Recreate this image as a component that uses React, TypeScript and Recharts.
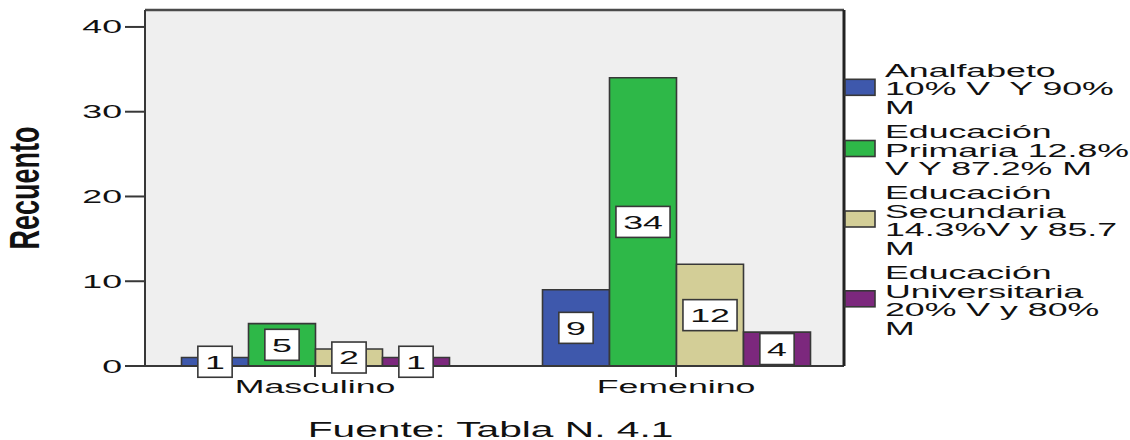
import React from "react";
import {
  BarChart,
  Bar,
  XAxis,
  YAxis,
  CartesianGrid,
  LabelList,
  Legend,
} from "recharts";

// ---- data ----
const categories = ["Masculino", "Femenino"];
const analfabeto = [1, 9];
const primaria = [5, 34];
const secundaria = [2, 12];
const universitaria = [1, 4];
const yTicks = [0, 10, 20, 30, 40];
const seriesKeys = ["analfabeto", "primaria", "secundaria", "universitaria"];
const seriesLabels = [
  ["Analfabeto", "10% V  Y 90%", "M"],
  ["Educación", "Primaria 12.8%", "V Y 87.2% M"],
  ["Educación", "Secundaria", "14.3%V y 85.7", "M"],
  ["Educación", "Universitaria", "20% V y 80%", "M"],
];
const seriesColors = ["#3E58AC", "#2EB848", "#D3CE97", "#7C287D"];
const yAxisTitle = "Recuento";
const sourceNote = "Fuente: Tabla N. 4.1";

const data = categories.map((c, i) => ({
  sex: c,
  analfabeto: analfabeto[i],
  primaria: primaria[i],
  secundaria: secundaria[i],
  universitaria: universitaria[i],
}));

// ---- styling ----
const FONT = "'Liberation Sans', Arial, sans-serif";
const SX = 1.93;
const FS = 18.5;
const INK = "#111";
const AXIS = "#383838";

const SText = ({ x, y, sx = SX, anchor = "start", size = FS, weight = "normal", children }: any) => (
  <text
    transform={`translate(${x} ${y}) scale(${sx} 1)`}
    textAnchor={anchor}
    fontSize={size}
    fontFamily={FONT}
    fontWeight={weight}
    fill={INK}
    style={{ whiteSpace: "pre" }}
  >
    {children}
  </text>
);

const YTick = (props: any) => {
  const { x, y, payload } = props;
  return (
    <SText x={x} y={y + 6.5} anchor="end">
      {String(payload.value)}
    </SText>
  );
};

const XTick = (props: any) => {
  const { x, y, payload } = props;
  return (
    <SText x={x} y={y + 13.5} anchor="middle">
      {String(payload.value)}
    </SText>
  );
};

const ValueBox = (props: any) => {
  const { x, y, width, height, value } = props;
  const cx = Number(x) + Number(width) / 2;
  const cy = Number(y) + Number(height) / 2;
  const s = String(value);
  const w = s.length * 19.8 + 14.5;
  const h = 31;
  return (
    <g>
      <rect x={cx - w / 2} y={cy - h / 2} width={w} height={h} fill="#fff" stroke={AXIS} strokeWidth={1.6} />
      <SText x={cx} y={cy + 6.8} anchor="middle">
        {s}
      </SText>
    </g>
  );
};

const LegendContent = () => {
  const step = 18.6;
  const gap = 24;
  let base = 76.7 - 50;
  const items: any[] = [];
  seriesLabels.forEach((lines, i) => {
    const first = base;
    const swCenter = first + ((lines.length - 1) * step) / 2 - 8;
    items.push(
      <g key={i}>
        <rect x={5} y={swCenter - 8} width={30} height={16} fill={seriesColors[i]} stroke={AXIS} strokeWidth={1.6} />
        {lines.map((ln, j) => (
          <SText key={j} x={45} y={first + j * step}>
            {ln}
          </SText>
        ))}
      </g>
    );
    base = first + (lines.length - 1) * step + gap;
  });
  return (
    <svg width={290} height={320} style={{ display: "block", overflow: "visible" }}>
      {items}
    </svg>
  );
};

const YTitle = (props: any) => {
  const vb = props.viewBox || {};
  const cx = (vb.x || 0) + 29;
  const cy = (vb.y || 0) + (vb.height || 0) / 2;
  return (
    <text
      transform={`translate(${cx + 10} ${cy}) scale(1.6 1) rotate(-90)`}
      textAnchor="middle"
      fontSize={27}
      fontWeight="bold"
      fontFamily={FONT}
      fill={INK}
    >
      {yAxisTitle}
    </text>
  );
};

const XTitle = (props: any) => {
  const vb = props.viewBox || {};
  const cx = (vb.x || 0) + (vb.width || 0) / 2 - 4;
  const by = (vb.y || 0) + (vb.height || 0) - 3.3;
  return (
    <SText x={cx} y={by} anchor="middle" size={22} sx={1.85}>
      {sourceNote}
    </SText>
  );
};

export default function App() {
  return (
    <div style={{ position: "absolute", left: 0, top: 0, width: 1130, height: 440, background: "#fff" }}>
      <BarChart
        width={1130}
        height={440}
        data={data}
        margin={{ top: 9, right: 285, bottom: 0, left: 0 }}
        barGap={0}
        barSize={67}
      >
        <CartesianGrid fill="#EFEFEF" horizontal={false} vertical={false} stroke="none" />
        <XAxis
          dataKey="sex"
          height={74}
          padding={{ left: -10.5, right: -12.5 }}
          axisLine={{ stroke: AXIS, strokeWidth: 2 }}
          tickLine={{ stroke: AXIS, strokeWidth: 2 }}
          tickSize={11}
          tick={<XTick />}
          label={<XTitle />}
          interval={0}
        />
        <XAxis
          xAxisId="top"
          type="number"
          domain={[0, 1]}
          orientation="top"
          height={1}
          tick={false}
          tickLine={false}
          axisLine={{ stroke: "#4a4a4a", strokeWidth: 2.4 }}
        />
        <YAxis
          width={145}
          domain={[0, 42]}
          ticks={yTicks}
          allowDataOverflow
          axisLine={{ stroke: AXIS, strokeWidth: 2 }}
          tickLine={{ stroke: AXIS, strokeWidth: 2 }}
          tickSize={20}
          tickMargin={3}
          tick={<YTick />}
          label={<YTitle />}
        />
        <YAxis
          yAxisId="right"
          orientation="right"
          type="number"
          domain={[0, 42]}
          width={1}
          tick={false}
          tickLine={false}
          axisLine={{ stroke: "#222", strokeWidth: 3 }}
        />
        <Legend
          content={<LegendContent />}
          layout="vertical"
          align="center"
          verticalAlign="middle"
          wrapperStyle={{ position: "absolute", left: 840, top: 50, width: 290, height: 320 }}
        />
        {seriesKeys.map((k, i) => (
          <Bar
            key={k}
            dataKey={k}
            name={seriesLabels[i].join(" ")}
            fill={seriesColors[i]}
            stroke={AXIS}
            strokeWidth={1.6}
            isAnimationActive={false}
          >
            <LabelList dataKey={k} content={<ValueBox />} />
          </Bar>
        ))}
      </BarChart>
    </div>
  );
}
